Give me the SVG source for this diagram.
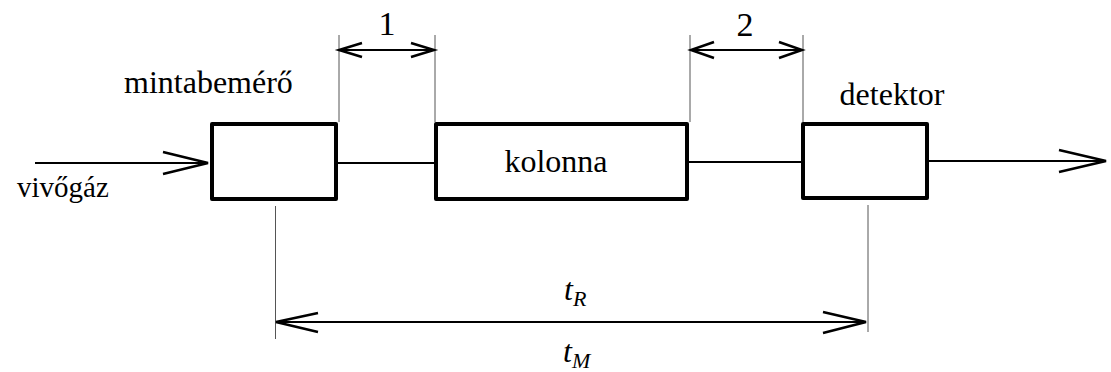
<svg xmlns="http://www.w3.org/2000/svg" width="1111" height="372" viewBox="0 0 1111 372">
<style>
.box{fill:#fff;stroke:#000;stroke-width:4;stroke-linejoin:round}
.ln{stroke:#000;stroke-width:2;fill:none}
.ext{stroke:#555;stroke-width:1;fill:none}
.head{stroke:#000;stroke-width:2.5;fill:none}
text{fill:#000;font-family:"Liberation Serif","Times New Roman",Times,"Nimbus Roman","Nimbus Roman No9 L",Tinos,FreeSerif,"Noto Serif","DejaVu Serif",serif}
.i{font-style:italic}
</style>
<rect width="1111" height="372" fill="#fff"/>
<g id="connectors">
  <line class="ln" x1="35" y1="163" x2="208" y2="163"/>
  <polyline class="head" points="163,152 208,163 163,174"/>
  <line class="ln" x1="338" y1="163" x2="434" y2="163"/>
  <line class="ln" x1="689" y1="162" x2="801" y2="162"/>
  <line class="ln" x1="929" y1="161" x2="1106" y2="161"/>
  <polyline class="head" points="1059,150 1106,161 1059,172"/>
</g>
<g id="dimensions">
  <line class="ext" x1="339" y1="35" x2="339" y2="122"/>
  <line class="ext" x1="435" y1="35" x2="435" y2="122"/>
  <line class="ln" x1="339" y1="50" x2="434" y2="50"/>
  <polyline class="head" points="362,43 339,50 362,57"/>
  <polyline class="head" points="411,43 434,50 411,57"/>
  <text x="387" y="35" font-size="34" text-anchor="middle">1</text>
  <line class="ext" x1="690" y1="35" x2="690" y2="122"/>
  <line class="ext" x1="803" y1="35" x2="803" y2="122"/>
  <line class="ln" x1="690" y1="50" x2="802" y2="50"/>
  <polyline class="head" points="714,42 691,50 714,58"/>
  <polyline class="head" points="779,42 802,50 779,58"/>
  <text x="745" y="36" font-size="34" text-anchor="middle">2</text>
  <line class="ext" x1="275.5" y1="206" x2="275.5" y2="339"/>
  <line class="ext" x1="868" y1="205" x2="868" y2="332"/>
  <line class="ln" x1="276" y1="322" x2="866" y2="322"/>
  <polyline class="head" points="318,313 276,322 318,332"/>
  <polyline class="head" points="823,312 866,322 823,333"/>
  <text class="i" x="564" y="300" font-size="32">t<tspan font-size="22" dy="6">R</tspan></text>
  <text class="i" x="563" y="362" font-size="32">t<tspan font-size="22" dy="6">M</tspan></text>
</g>
<g id="mintabemero">
  <rect class="box" x="212" y="124" width="124" height="75"/>
  <text x="124" y="93" font-size="32">mintabemérő</text>
</g>
<g id="kolonna">
  <rect class="box" x="436" y="124" width="251" height="75"/>
  <text x="556" y="172" font-size="32" text-anchor="middle">kolonna</text>
</g>
<g id="detektor">
  <rect class="box" x="803" y="124" width="124" height="74"/>
  <text x="892" y="105" font-size="32" text-anchor="middle">detektor</text>
</g>
<g id="vivogaz">
  <text x="17" y="197" font-size="29">vivőgáz</text>
</g>
</svg>
